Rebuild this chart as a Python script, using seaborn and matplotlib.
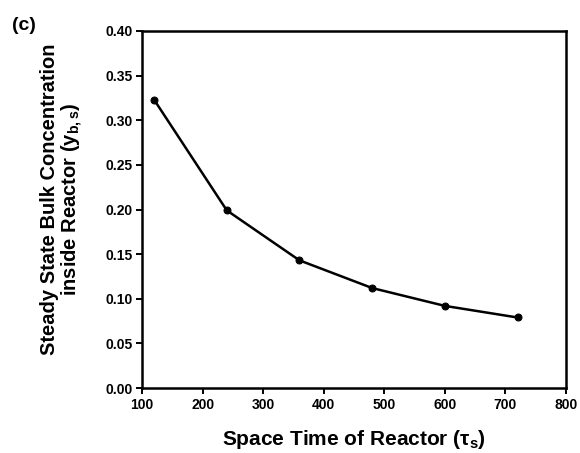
import matplotlib
matplotlib.use("Agg")
import matplotlib.pyplot as plt
import seaborn as sns
import pandas as pd

space_time = [120, 240, 360, 480, 600, 720]
concentration = [0.323, 0.199, 0.143, 0.112, 0.092, 0.079]
x_ticks = [100, 200, 300, 400, 500, 600, 700, 800]
y_ticks = [0.00, 0.05, 0.10, 0.15, 0.20, 0.25, 0.30, 0.35, 0.40]

sns.set_theme(style="ticks")
plt.rcParams['font.family'] = ['Liberation Sans', 'DejaVu Sans']
plt.rcParams['font.weight'] = 'bold'
plt.rcParams['text.color'] = 'black'
plt.rcParams['axes.labelcolor'] = 'black'
plt.rcParams['mathtext.fontset'] = 'custom'
plt.rcParams['mathtext.rm'] = 'Liberation Sans:bold'
plt.rcParams['mathtext.bf'] = 'Liberation Sans:bold'
plt.rcParams['mathtext.it'] = 'Liberation Sans:bold'

df = pd.DataFrame({"x": space_time, "y": concentration})

fig = plt.figure(figsize=(5.8, 4.53), dpi=100)
ax = fig.add_axes([142/580, 1 - 388/453, (566-142)/580, (388-31)/453])
sns.lineplot(data=df, x="x", y="y", ax=ax, color="black", marker="o",
             markersize=5, linewidth=1.8, markeredgecolor="black")

ax.set_xlim(100, 800)
ax.set_ylim(0, 0.40)
ax.set_xticks(x_ticks)
ax.set_yticks(y_ticks)
ax.set_xticklabels([str(t) for t in x_ticks], fontsize=10, fontweight='bold', color='black')
ax.set_yticklabels([f"{t:.2f}" for t in y_ticks], fontsize=10, fontweight='bold', color='black')
for s in ax.spines.values():
    s.set_linewidth(1.8)
    s.set_color("black")
ax.tick_params(direction='out', length=4, width=1.4, colors='black', pad=3)

ax.set_xlabel("Space Time of Reactor (τ$_\\mathrm{s}$)", fontsize=15, fontweight='bold')
ax.xaxis.set_label_coords(0.5, (388 - 428) / 357)
ax.set_ylabel("Steady State Bulk Concentration\ninside Reactor (y$_\\mathrm{b,s}$)",
              fontsize=14.5, fontweight='bold', linespacing=1.05)
ax.yaxis.set_label_coords((85 - 142) / 424, 0.53)
fig.text(12/580, 1 - 25/453, "(c)", fontsize=14, fontweight='bold', va='center', ha='left')

fig.savefig("out.png", dpi=100)
